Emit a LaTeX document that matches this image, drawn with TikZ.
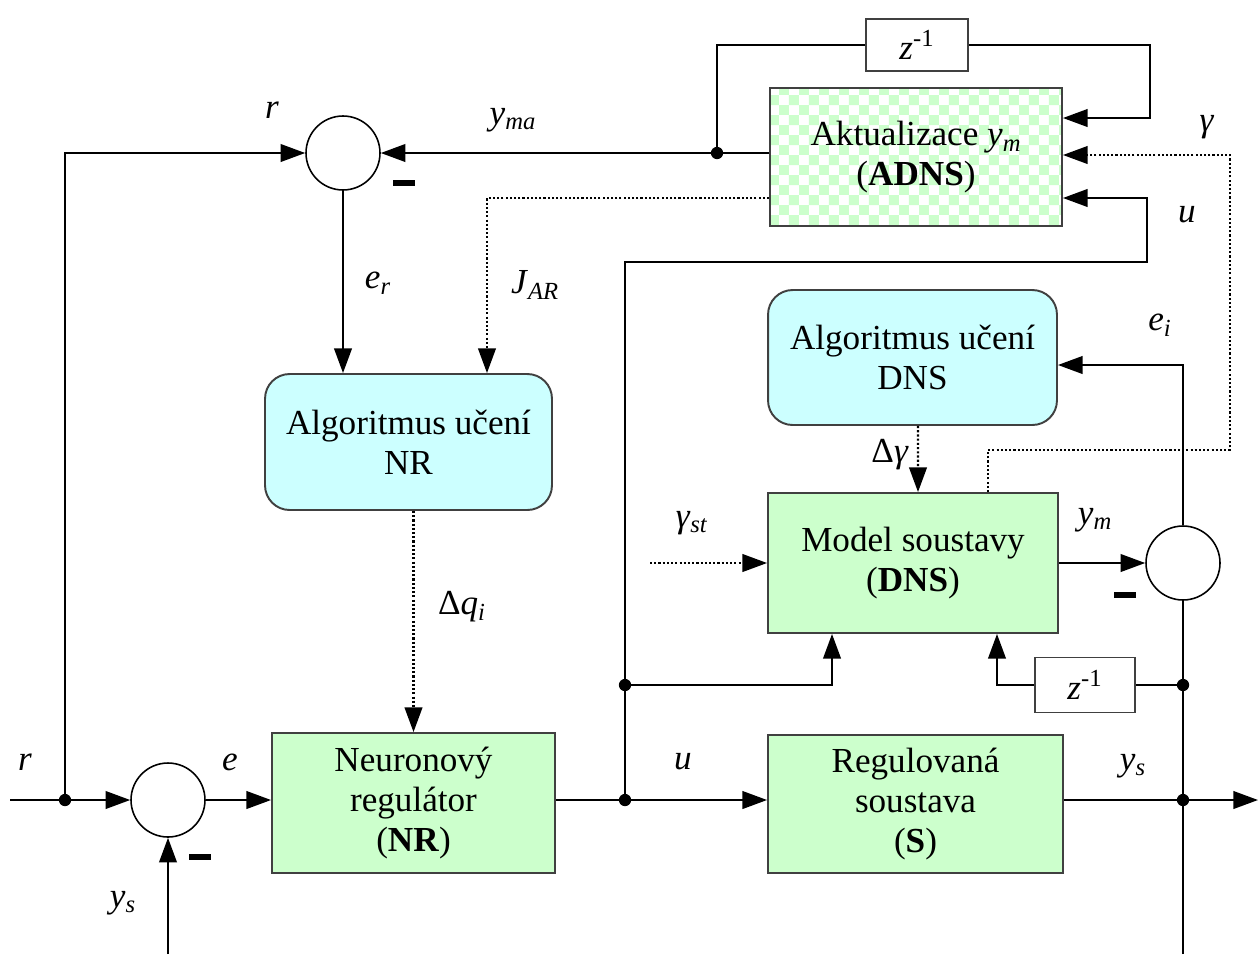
\documentclass[tikz,border=0pt]{standalone}
\usepackage{fontspec}
\setmainfont{Liberation Serif}
\usetikzlibrary{arrows.meta,patterns}
\definecolor{boxgreen}{HTML}{CCFFCC}
\definecolor{boxcyan}{HTML}{CCFFFF}
\definecolor{edgec}{HTML}{404040}
\begin{document}
\begin{tikzpicture}[x=0.02cm,y=-0.02cm,
  font=\fontsize{20}{22.5}\selectfont,
  blk/.style={draw=edgec,line width=1.1pt,align=center,inner sep=0pt},
  gbox/.style={blk,fill=boxgreen},
  cbox/.style={blk,fill=boxcyan,rounded corners=14pt},
  wbox/.style={blk,fill=white},
  chkbox/.style={blk,preaction={fill=white},pattern=checkerboard,pattern color=boxgreen},
  summer/.style={circle,draw=black,line width=0.9pt,minimum size=1.48cm,inner sep=0pt,fill=white},
  sig/.style={line width=1.2pt},
  arr/.style={sig,-{Triangle[length=14pt,width=10pt]}},
  darr/.style={line width=1.2pt,dash pattern=on 1.2pt off 1.2pt,-{Triangle[length=14pt,width=10pt]}},
  jdot/.style={circle,fill=black,inner sep=0pt,minimum size=7pt},
  minusbar/.style={fill=black,minimum width=0.44cm,minimum height=0.12cm,inner sep=0pt},
  lbl/.style={inner sep=0pt}]
\useasboundingbox (0,0) rectangle (1260,954);

% blocks
\node[wbox,minimum width=2.04cm,minimum height=1.04cm] (ztop) at (917,45) {\textit{z}\textsuperscript{-1}};
\node[chkbox,minimum width=5.84cm,minimum height=2.76cm] (adns) at (916,157) {Aktualizace \textit{y}\textsubscript{\textit{m}}\\(\textbf{ADNS})};
\node[cbox,minimum width=5.74cm,minimum height=2.72cm] (anr) at (408.5,442) {Algoritmus učení\\NR};
\node[gbox,minimum width=5.66cm,minimum height=2.8cm] (nr) at (413.5,803) {Neuronový\\regulátor\\(\textbf{NR})};
\node[gbox,minimum width=5.9cm,minimum height=2.76cm] (s) at (915.5,804) {Regulovaná\\soustava\\(\textbf{S})};
\node[gbox,minimum width=5.8cm,minimum height=2.8cm] (dns) at (913,563) {Model soustavy\\(\textbf{DNS})};
\node[cbox,minimum width=5.78cm,minimum height=2.7cm] (adns2) at (912.5,357.5) {Algoritmus učení\\DNS};
\node[wbox,minimum width=2.0cm,minimum height=1.1cm] (zbot) at (1085,685) {\textit{z}\textsuperscript{-1}};

% summing junctions
\node[summer] (sum1) at (343,153) {};
\node[summer] (sum2) at (168,800) {};
\node[summer] (sum3) at (1183,563) {};

% junction points
\coordinate (in) at (10,800);
\coordinate (out) at (1258,800);
\coordinate (ysin) at (168,954);
\coordinate (ysbot) at (1183,954);
\coordinate (uturn1) at (625,262);
\coordinate (uturn2) at (1147,262);
\coordinate (zt1) at (1150,45);
\coordinate (g1) at (1230,450);
\coordinate (gst) at (650,563);
\node[jdot] (jr) at (65,800) {};
\node[jdot] (ju) at (625,800) {};
\node[jdot] (ju2) at (625,685) {};
\node[jdot] (jys) at (1183,800) {};
\node[jdot] (jyz) at (1183,685) {};
\node[jdot] (jym) at (717,153) {};

% main loop
\draw[arr] (in) -- (sum2.west);
\draw[arr] (jr.center) |- (sum1.west);
\draw[arr] (sum2.east) -- (nr.west |- sum2.east);
\draw[arr] (ysin) -- (sum2.south);
\draw[arr] (nr.east |- ju) -- (s.west |- ju);
\draw[arr] (s.east |- jys) -- (out);
\draw[sig] (ysbot) -- (sum3.south);

% model branch
\draw[sig] (jyz.center) -- (zbot.east);
\draw[arr] (zbot.west) -| ([xshift=1.68cm]dns.south);
\draw[arr] (ju2.center) -| ([xshift=-1.62cm]dns.south);
\draw[arr] (ju.center) -- (uturn1) -- (uturn2) |- ([yshift=-0.82cm]adns.east);
\draw[arr] (dns.east |- sum3.west) -- (sum3.west);
\draw[arr] (sum3.north) |- ([yshift=-0.15cm]adns2.east);
\draw[darr] ([xshift=0.11cm]adns2.south) -- ([xshift=0.1cm]dns.north);
\draw[darr] ([xshift=1.5cm]dns.north) |- (g1) |- ([yshift=0.04cm]adns.east);
\draw[darr] (gst) -- (dns.west);

% ADNS connections
\draw[arr] (adns.west |- jym) -- (sum1.east);
\draw[sig] (jym.center) |- (ztop.west);
\draw[arr] (ztop.east) -- (zt1) |- ([yshift=0.78cm]adns.east);
\draw[arr] (sum1.south) -- (anr.north -| sum1.south);
\draw[darr] ([yshift=-0.82cm]adns.west) -| ([xshift=1.57cm]anr.north);
\draw[darr] (anr.south -| nr.north) -- (nr.north);

% minus signs
\node[minusbar] (m1) at (404,183) {};
\node[minusbar] (m2) at (200,857) {};
\node[minusbar] (m3) at (1125,595) {};

% labels
\node[lbl] (lr1) at (272,110) {\textit{r}};
\node[lbl] (lyma) at (513,120) {\textit{y}\textsubscript{\textit{ma}}};
\node[lbl] (ler) at (378,283) {\textit{e}\textsubscript{\textit{r}}};
\node[lbl] (ljar) at (535,285) {\textit{J}\textsubscript{\textit{AR}}};
\node[lbl] (ldq) at (462,607) {Δ\textit{q}\textsubscript{\textit{i}}};
\node[lbl] (lr2) at (25,762) {\textit{r}};
\node[lbl] (le) at (230,762) {\textit{e}};
\node[lbl] (lys1) at (123,903) {\textit{y}\textsubscript{\textit{s}}};
\node[lbl] (lu1) at (683,762) {\textit{u}};
\node[lbl] (lys2) at (1133,766) {\textit{y}\textsubscript{\textit{s}}};
\node[lbl] (lgst) at (692,523) {\textit{γ}\textsubscript{\textit{st}}};
\node[lbl] (lym) at (1095,520) {\textit{y}\textsubscript{\textit{m}}};
\node[lbl] (ldg) at (890,455) {Δ\textit{γ}};
\node[lbl] (lei) at (1160,325) {\textit{e}\textsubscript{\textit{i}}};
\node[lbl] (lg) at (1207,127) {\textit{γ}};
\node[lbl] (lu2) at (1187,215) {\textit{u}};
\end{tikzpicture}
\end{document}
